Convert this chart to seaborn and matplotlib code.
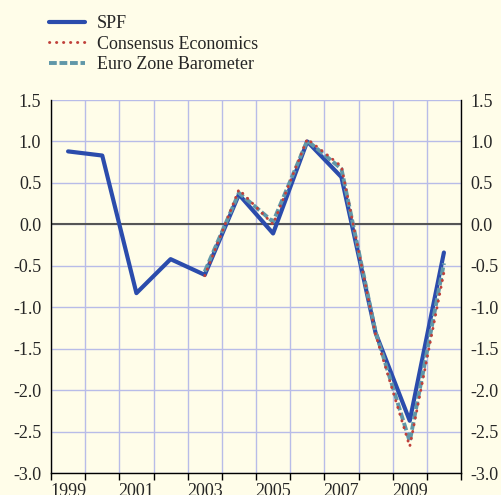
# Euro area real GDP growth expectations: SPF vs Consensus Economics vs Euro Zone Barometer
import numpy as np
import pandas as pd
import matplotlib
matplotlib.use("Agg")
import matplotlib.pyplot as plt
from matplotlib.ticker import MultipleLocator, FixedLocator, FixedFormatter
import seaborn as sns

# -----------------------------------------------------------------------------
# data (values at mid-year)
# -----------------------------------------------------------------------------
spf_years = [1999, 2000, 2001, 2002, 2003, 2004, 2005, 2006, 2007, 2008, 2009, 2010]
spf = [0.88, 0.83, -0.83, -0.42, -0.61, 0.36, -0.11, 1.00, 0.57, -1.31, -2.37, -0.34]

other_years = [2003, 2004, 2005, 2006, 2007, 2008, 2009, 2010]
consensus = [-0.62, 0.42, 0.00, 1.03, 0.70, -1.33, -2.68, -0.58]
barometer = [-0.57, 0.38, 0.03, 1.01, 0.67, -1.30, -2.62, -0.47]

year_labels = ["1999", "2001", "2003", "2005", "2007", "2009"]

BG = "#FFFDE9"
GRID = "#B8BCE8"
BLUE = "#2B4CAC"
RED = "#C0403A"
TEAL = "#6097A8"

sns.set_theme(style="white")
plt.rcParams["font.family"] = ["Liberation Serif", "DejaVu Serif"]

fig = plt.figure(figsize=(5.01, 4.95), dpi=100, facecolor=BG)
ax = fig.add_axes([51 / 501, 1 - 473 / 495, 410 / 501, 373 / 495])
ax.set_facecolor(BG)

df_spf = pd.DataFrame({"x": np.array(spf_years) + 0.5, "y": spf})
df_ce = pd.DataFrame({"x": np.array(other_years) + 0.5, "y": consensus})
df_ezb = pd.DataFrame({"x": np.array(other_years) + 0.5, "y": barometer})

ax.axhline(0, color="#555555", lw=1.5, zorder=2)

sns.lineplot(data=df_spf, x="x", y="y", ax=ax, color=BLUE, lw=3.0,
             label="SPF", zorder=3)
sns.lineplot(data=df_ce, x="x", y="y", ax=ax, color=RED, lw=2.1,
             label="Consensus Economics", zorder=5)
sns.lineplot(data=df_ezb, x="x", y="y", ax=ax, color=TEAL, lw=2.8,
             label="Euro Zone Barometer", zorder=4)

# dotted / dashed styles
lines = ax.get_lines()
ce_line = lines[2]
ce_line.set_dashes((0.1, 2.3))
ce_line.set_dash_capstyle("round")
ezb_line = lines[3]
ezb_line.set_dashes((2.0, 0.7))
ezb_line.set_dash_capstyle("butt")

ax.set_xlim(1999, 2011)
ax.set_ylim(-3.0, 1.5)
ax.yaxis.set_major_locator(MultipleLocator(0.5))
ax.yaxis.set_major_formatter(plt.FuncFormatter(lambda v, p: f"{v:.1f}"))

ax.xaxis.set_major_locator(MultipleLocator(1))
ax.xaxis.set_major_formatter(plt.NullFormatter())
ax.xaxis.set_minor_locator(FixedLocator([int(y) + 0.5 for y in year_labels]))
ax.xaxis.set_minor_formatter(FixedFormatter(year_labels))

ax.grid(True, which="major", color=GRID, lw=1.0, zorder=0)
ax.set_axisbelow(True)

ax.tick_params(axis="x", which="major", direction="out", length=5, width=1,
               color="black", bottom=True)
ax.tick_params(axis="x", which="minor", length=0, pad=7, labelsize=13)
ax.tick_params(axis="y", which="both", length=0, labelsize=13,
               left=False, right=False, labelleft=True, labelright=True, pad=7)

for side in ["left", "right", "bottom"]:
    ax.spines[side].set_visible(True)
    ax.spines[side].set_color("black")
    ax.spines[side].set_linewidth(1.0)
ax.spines["top"].set_visible(False)

ax.set_xlabel("")
ax.set_ylabel("")

handles, labels = ax.get_legend_handles_labels()
ax.get_legend().remove()
fig.legend(handles, labels, loc="upper left", bbox_to_anchor=(49 / 501, 1 - 15 / 495),
           frameon=False, fontsize=13, handlelength=2.0, handletextpad=0.65,
           labelspacing=0.2, borderpad=0, borderaxespad=0)

fig.savefig("out.png", dpi=100, facecolor=BG)
